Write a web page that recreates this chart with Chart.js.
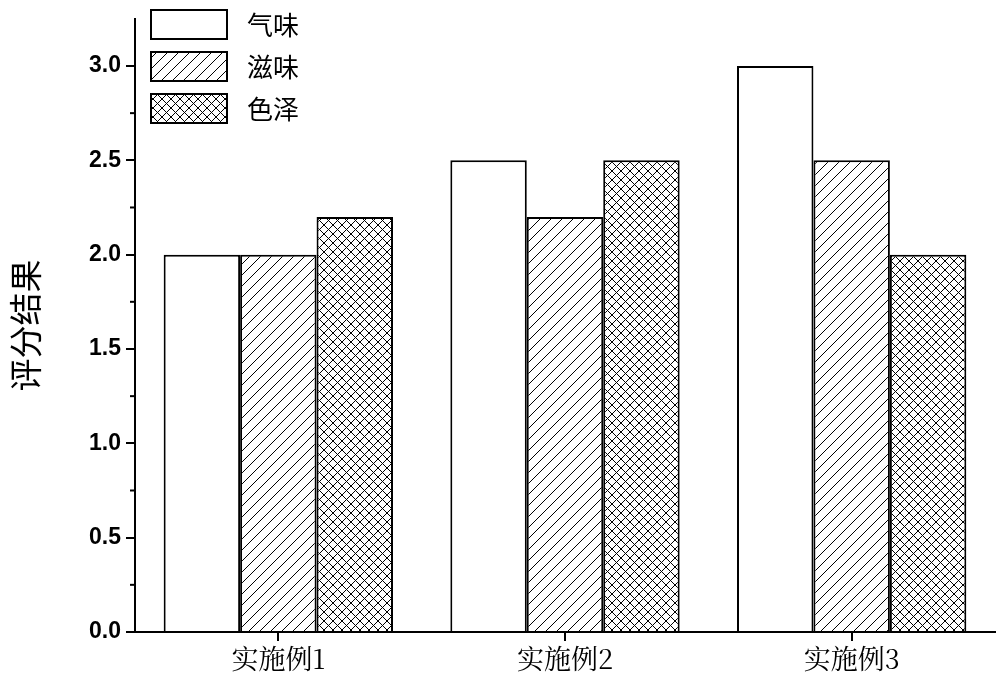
<!DOCTYPE html>
<html><head><meta charset="utf-8">
<script src="https://cdn.jsdelivr.net/npm/chart.js@4"></script>
<style>body{margin:0;background:#fff}#wrap{width:1000px;height:694px}</style>
</head><body><div id="wrap"><canvas id="c"></canvas></div>
<script>
let categories = ["实施例1", "实施例2", "实施例3"];
let seriesNames = ["气味", "滋味", "色泽"];
let odor = [2.0, 2.5, 3.0];
let taste = [2.0, 2.2, 2.5];
let color = [2.2, 2.5, 2.0];

function makePattern(kind) {
  let p = document.createElement("canvas");
  let s = kind === "hatch" ? 11 : 9;
  p.width = s; p.height = s;
  let g = p.getContext("2d");
  g.fillStyle = "#fff"; g.fillRect(0, 0, s, s);
  g.strokeStyle = "#000"; g.lineWidth = 1;
  g.beginPath();
  g.moveTo(0, s); g.lineTo(s, 0);
  g.moveTo(-1, 1); g.lineTo(1, -1);
  g.moveTo(s - 1, s + 1); g.lineTo(s + 1, s - 1);
  if (kind === "cross") {
    g.moveTo(0, 0); g.lineTo(s, s);
    g.moveTo(-1, s - 1); g.lineTo(1, s + 1);
    g.moveTo(s - 1, -1); g.lineTo(s + 1, 1);
  }
  g.stroke();
  return g.createPattern(p, "repeat");
}
let fills = ["#fff", makePattern("hatch"), makePattern("cross")];

let ctx = document.getElementById("c").getContext("2d");

// legend + minor ticks
let extras = {
  id: "extras",
  afterDraw(chart) {
    let c = chart.ctx, y = chart.scales.y, a = chart.chartArea;
    c.save();
    c.strokeStyle = "#000"; c.lineWidth = 2;
    for (let v = 0.25; v < 3.25; v += 0.5) {
      let py = y.getPixelForValue(v);
      c.beginPath(); c.moveTo(a.left - 5, py); c.lineTo(a.left, py); c.stroke();
    }
    seriesNames.forEach((n, i) => {
      let top = 10 + i * 42;
      c.fillStyle = fills[i];
      c.fillRect(151, top, 76, 29);
      c.strokeRect(151, top, 76, 29);
      c.fillStyle = "#000";
      c.font = "26px 'Noto Sans CJK SC'";
      c.textBaseline = "middle";
      c.fillText(n, 247, top + 15);
    });
    c.restore();
  }
};

new Chart(ctx, {
  type: "bar",
  data: {
    labels: categories,
    datasets: [odor, taste, color].map((d, i) => ({
      label: seriesNames[i], data: d,
      backgroundColor: fills[i], borderColor: "#000", borderWidth: 2,
      categoryPercentage: 0.8, barPercentage: 1
    }))
  },
  options: {
    animation: false, responsive: true, maintainAspectRatio: false,
    layout: { padding: { top: -7, right: 5 } },
    plugins: { legend: { display: false }, tooltip: { enabled: false } },
    scales: {
      x: {
        grid: { display: true, drawOnChartArea: false, offset: false, tickLength: 9, color: "#000", lineWidth: 2 },
        border: { color: "#000", width: 2 },
        ticks: { color: "#000", font: { size: 27, family: "'Noto Serif CJK SC', 'Noto Sans CJK SC', serif" }, padding: 2 },
        afterFit(s) { s.height = 62; }
      },
      y: {
        min: 0, max: 3.25,
        afterBuildTicks(s) { s.ticks = [0, 0.5, 1, 1.5, 2, 2.5, 3].map(v => ({ value: v })); },
        grid: { display: true, drawOnChartArea: false, tickLength: 9, color: "#000", lineWidth: 2 },
        border: { color: "#000", width: 2 },
        ticks: { color: "#000", font: { size: 23, weight: "bold", family: "Liberation Sans" }, padding: 5,
          callback: v => v.toFixed(1) },
        title: { display: true, text: "评分结果", color: "#000", font: { size: 33, family: "'Noto Sans CJK SC'" }, padding: 6 },
        afterFit(s) { s.width = 135; }
      }
    }
  },
  plugins: [extras]
});
</script></body></html>
